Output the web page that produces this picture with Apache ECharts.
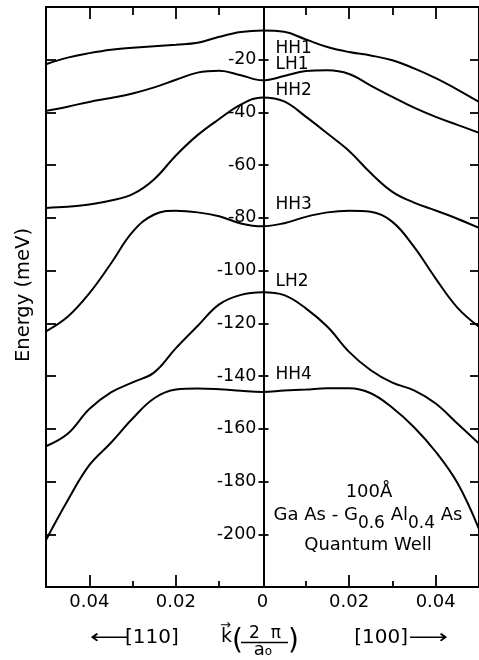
<!DOCTYPE html>
<html><head><meta charset="utf-8">
<script src="https://cdn.jsdelivr.net/npm/echarts@6/dist/echarts.min.js"></script>
<style>html,body{margin:0;padding:0;background:#fff}#c{width:479px;height:660px}</style>
</head><body><div id="c"></div>
<script>
// wave vector k (units of 2π/a0); negative = [110] direction, positive = [100]
const kValues = [-0.05,-0.045,-0.04,-0.035,-0.03,-0.025,-0.02,-0.015,-0.01,-0.005,0,0.005,0.01,0.015,0.02,0.025,0.03,0.035,0.04,0.045,0.05];
// subband energies (meV)
const hh1 = [-21.7,-19.2,-17.5,-16.2,-15.5,-14.9,-14.3,-13.6,-11.3,-9.5,-8.9,-9.4,-12.3,-15.2,-17.1,-18.4,-20.2,-23.3,-27.0,-31.3,-36.0];
const lh1 = [-39.4,-37.8,-36.0,-34.5,-32.8,-30.5,-27.6,-24.9,-24.2,-25.9,-27.8,-26.2,-24.3,-24.0,-25.4,-29.8,-34.1,-38.2,-41.7,-44.7,-47.7];
const hh2 = [-76.2,-75.8,-74.9,-73.4,-71.0,-65.3,-56.3,-48.6,-42.5,-37.0,-34.3,-35.8,-41.6,-48.0,-54.6,-63.0,-70.1,-74.2,-77.2,-80.3,-83.8];
const hh3 = [-123.0,-117.5,-108.6,-97.3,-85.3,-78.7,-77.3,-77.9,-79.4,-82.1,-83.2,-82.0,-79.6,-77.9,-77.3,-77.7,-81.5,-91.0,-103.0,-114.0,-121.3];
const lh2 = [-166.6,-161.9,-152.5,-146.2,-142.4,-138.6,-129.4,-121.0,-112.8,-109.2,-108.2,-109.3,-114.3,-121.3,-130.8,-137.8,-142.5,-145.4,-150.4,-158.0,-165.6];
const hh4 = [-202.2,-187.2,-173.8,-165.3,-156.1,-148.4,-145.1,-144.7,-145.0,-145.6,-146.0,-145.5,-145.1,-144.6,-144.6,-146.5,-152.0,-159.4,-168.7,-180.5,-198.0];
const bandNames = ['HH1','LH1','HH2','HH3','LH2','HH4'];
const bandLabelK = [0.003,0.003,0.003,0.003,0.003,0.003];
const bandLabelE = [-15.6,-22.0,-31.8,-74.8,-104.0,-139.6];
// axis ticks
const yTicks = [-20,-40,-60,-80,-100,-120,-140,-160,-180,-200];
const xMajor = [-0.04,-0.02,0.02,0.04];
const xMinor = [-0.03,-0.01,0.01,0.03];
const xLabels = [-0.04,-0.02,0,0.02,0.04];

const FONT = '"DejaVu Sans", sans-serif';
const bandData = [hh1, lh1, hh2, hh3, lh2, hh4];
const XMIN = -0.05, XMAX = 0.05, YMIN = -220, YMAX = 0;

function xAx(extra) {
  return Object.assign({
    type: 'value', min: XMIN, max: XMAX, gridIndex: 0,
    axisLine: { show: false, onZero: false },
    splitLine: { show: false },
    axisLabel: { show: false },
    axisTick: { show: false }
  }, extra);
}
function yAx(extra) {
  return Object.assign({
    type: 'value', min: YMIN, max: YMAX, gridIndex: 0,
    axisLine: { show: false, onZero: false },
    splitLine: { show: false },
    axisLabel: { show: false },
    axisTick: { show: false }
  }, extra);
}
const tickStyle = { color: '#000', width: 1.8 };

const option = {
  animation: false,
  backgroundColor: '#fff',
  grid: [
    { left: 46, top: 7, width: 435, height: 580, show: true, borderColor: '#000', borderWidth: 2, backgroundColor: 'transparent' },
    { left: 46, top: 7, width: 217.5, height: 580 },
    { left: 263.5, top: 7, width: 217.5, height: 580 }
  ],
  xAxis: [
    xAx({ position: 'bottom',
      axisTick: { show: true, inside: true, length: 12, customValues: xMajor, lineStyle: tickStyle },
      axisLabel: { show: true, customValues: xLabels, margin: 6, color: '#000', fontFamily: FONT, fontSize: 18,
        formatter: v => (Math.abs(v) < 1e-9 ? '0' : Math.abs(v).toFixed(2)) } }),
    xAx({ position: 'bottom',
      axisTick: { show: true, inside: true, length: 6, customValues: xMinor, lineStyle: tickStyle } }),
    xAx({ position: 'top',
      axisTick: { show: true, inside: true, length: 12, customValues: xMajor, lineStyle: tickStyle } }),
    xAx({ position: 'top',
      axisTick: { show: true, inside: true, length: 8, customValues: xMinor, lineStyle: tickStyle } }),
    xAx({ gridIndex: 1, show: false }),
    xAx({ gridIndex: 2, show: false })
  ],
  yAxis: [
    yAx({ position: 'left',
      axisTick: { show: true, inside: true, length: 10, customValues: yTicks, lineStyle: tickStyle } }),
    yAx({ position: 'right',
      axisTick: { show: true, inside: true, length: 9, customValues: yTicks, lineStyle: tickStyle } }),
    yAx({ gridIndex: 1, position: 'right',
      axisTick: { show: true, inside: false, length: 5, customValues: yTicks, lineStyle: tickStyle } }),
    yAx({ gridIndex: 2, position: 'left',
      axisLine: { show: true, onZero: false, lineStyle: { color: '#000', width: 2 } },
      axisTick: { show: true, inside: false, length: 5, customValues: yTicks, lineStyle: tickStyle },
      axisLabel: { show: true, customValues: yTicks, margin: 7, color: '#000', fontFamily: FONT, fontSize: 17.5 } })
  ],
  series: bandData.map((e, i) => ({
    type: 'line', name: bandNames[i], xAxisIndex: 0, yAxisIndex: 0,
    data: kValues.map((k, j) => [k, e[j]]),
    smooth: 0.4, showSymbol: false, silent: true,
    lineStyle: { color: '#000', width: 2 }
  })).concat([{
    type: 'scatter', xAxisIndex: 0, yAxisIndex: 0, symbolSize: 0, silent: true,
    itemStyle: { opacity: 1 },
    data: bandNames.map((n, i) => ({ name: n, value: [bandLabelK[i], bandLabelE[i]] })),
    label: { show: true, position: 'right', distance: 0, formatter: '{b}', color: '#000', opacity: 1,
      fontFamily: FONT, fontSize: 17 }
  }]),
  graphic: [
    { type: 'text', x: 24, y: 295, rotation: Math.PI / 2,
      style: { text: 'Energy (meV)', fill: '#000', font: '19.5px ' + FONT, align: 'center', verticalAlign: 'middle' } },
    { type: 'text', x: 369, y: 492,
      style: { text: '100Å', fill: '#000', font: '18px ' + FONT, align: 'center', verticalAlign: 'middle' } },
    { type: 'text', x: 368, y: 524,
      style: { text: '{n|Ga As - G}{s|0.6}{n| Al}{s|0.4}{n| As}', align: 'center', verticalAlign: 'middle', fill: '#000',
        rich: {
          n: { fontFamily: FONT, fontSize: 18, lineHeight: 20, verticalAlign: 'top', fill: '#000', color: '#000' },
          s: { fontFamily: FONT, fontSize: 17, lineHeight: 36, verticalAlign: 'middle', fill: '#000', color: '#000' }
        } } },
    { type: 'text', x: 368, y: 545,
      style: { text: 'Quantum Well', fill: '#000', font: '18px ' + FONT, align: 'center', verticalAlign: 'middle' } },
    // bottom direction labels
    { type: 'text', x: 90, y: 638, scaleX: 1.45,
      style: { text: '⟵', fill: '#000', font: '19px ' + FONT, align: 'left', verticalAlign: 'middle' } },
    { type: 'text', x: 125, y: 638,
      style: { text: '[110]', fill: '#000', font: '20px ' + FONT, align: 'left', verticalAlign: 'middle' } },
    { type: 'text', x: 408, y: 638,
      style: { text: '[100]', fill: '#000', font: '20px ' + FONT, align: 'right', verticalAlign: 'middle' } },
    { type: 'text', x: 448, y: 638, scaleX: 1.45,
      style: { text: '⟶', fill: '#000', font: '19px ' + FONT, align: 'right', verticalAlign: 'middle' } },
    { type: 'text', x: 221, y: 637,
      style: { text: 'k', fill: '#000', font: '19px ' + FONT, align: 'left', verticalAlign: 'middle' } },
    { type: 'text', x: 220, y: 626,
      style: { text: '→', fill: '#000', font: '13px ' + FONT, align: 'left', verticalAlign: 'middle' } },
    { type: 'text', x: 232, y: 642,
      style: { text: '(', fill: '#000', font: '28px ' + FONT, align: 'left', verticalAlign: 'middle' } },
    { type: 'text', x: 299, y: 642,
      style: { text: ')', fill: '#000', font: '28px ' + FONT, align: 'right', verticalAlign: 'middle' } },
    { type: 'text', x: 265, y: 634,
      style: { text: '2  π', fill: '#000', font: '17px ' + FONT, align: 'center', verticalAlign: 'middle' } },
    { type: 'line', shape: { x1: 241, y1: 642.5, x2: 288, y2: 642.5 }, style: { stroke: '#000', lineWidth: 1.5 } },
    { type: 'text', x: 263, y: 652,
      style: { text: '{a|a}{o|o}', align: 'center', verticalAlign: 'middle', fill: '#000',
        rich: { a: { fontFamily: FONT, fontSize: 18, lineHeight: 14, verticalAlign: 'top', color: '#000' },
                o: { fontFamily: FONT, fontSize: 12, lineHeight: 22, verticalAlign: 'middle', color: '#000' } } } }
  ]
};
const chart = echarts.init(document.getElementById('c'), null, { renderer: 'canvas' });
chart.setOption(option);
</script></body></html>
